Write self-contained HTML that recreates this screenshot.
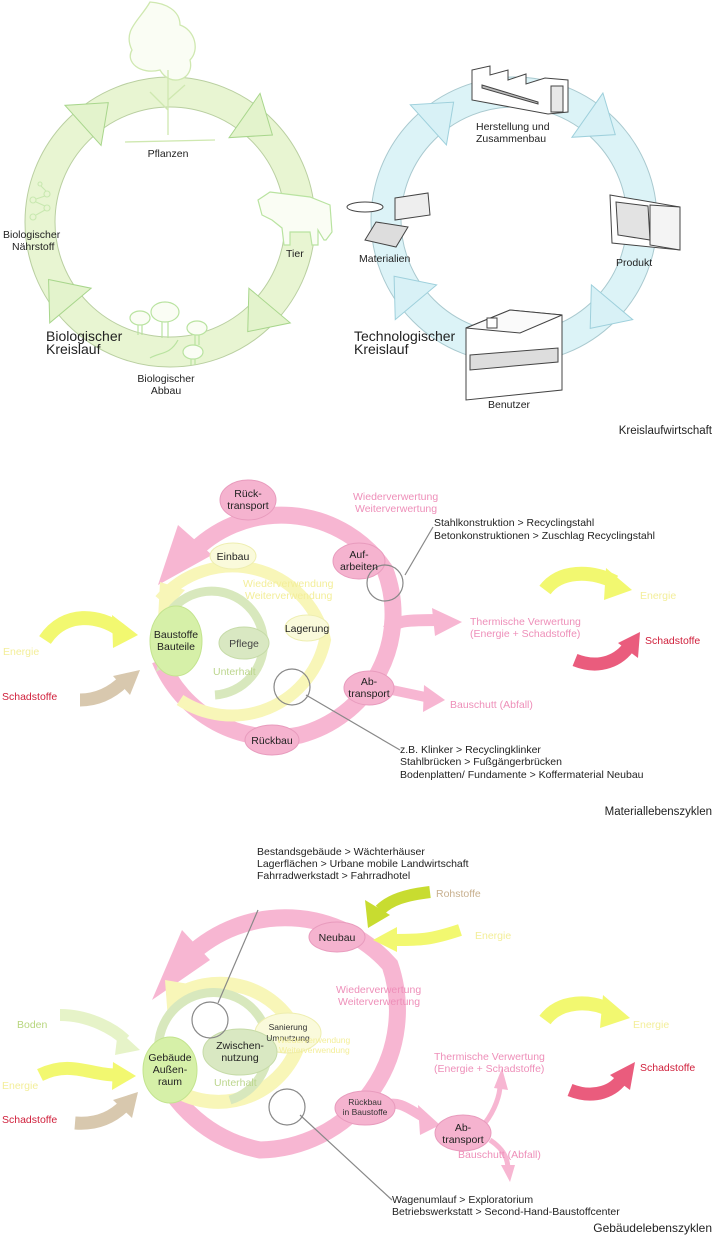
<!DOCTYPE html>
<html><head><meta charset="utf-8"><style>
html,body{margin:0;padding:0;background:#fff}
svg{display:block;font-family:"Liberation Sans",sans-serif}
text{font-size:10.5px}
</style></head><body>
<svg width="715" height="1238" viewBox="0 0 715 1238" xmlns="http://www.w3.org/2000/svg">
<!-- ========== Section 1 ========== -->
<circle cx="170" cy="222" r="130" fill="none" stroke="#b9cfa0" stroke-width="31"/>
<circle cx="170" cy="222" r="130" fill="none" stroke="#e8f5d2" stroke-width="29"/>
<circle cx="514" cy="220" r="128" fill="none" stroke="#a9c9cf" stroke-width="31"/>
<circle cx="514" cy="220" r="128" fill="none" stroke="#dcf3f7" stroke-width="29"/>
<g transform="translate(170,222)" fill="#e3f3cc" stroke="#a8d68c" stroke-width="1">
<polygon transform="rotate(-55)" points="103,0 157,0 130,34"/>
<polygon transform="rotate(40)" points="103,0 157,0 130,34"/>
<polygon transform="rotate(140)" points="103,0 157,0 130,34"/>
<polygon transform="rotate(228)" points="103,0 157,0 130,34"/>
</g>
<g transform="translate(514,220)" fill="#d8f1f6" stroke="#9ed0dc" stroke-width="1">
<polygon transform="rotate(-55)" points="101,0 155,0 128,34"/>
<polygon transform="rotate(40)" points="101,0 155,0 128,34"/>
<polygon transform="rotate(140)" points="101,0 155,0 128,34"/>
<polygon transform="rotate(228)" points="101,0 155,0 128,34"/>
</g>
<!-- plant -->
<g fill="none" stroke="#cfe8b0" stroke-width="1.3">
<path d="M150,2 C140,20 122,30 132,50 C125,62 140,75 160,70 C170,88 195,80 190,60 C200,50 195,30 180,25 C180,10 165,3 150,2Z" fill="#fafdf4"/>
<path d="M168,70 L168,135 M168,110 L150,92 M168,100 L185,85"/>
<path d="M125,142 L215,140"/>
</g>
<!-- cow -->
<g fill="#fafdf4" stroke="#b9e3a0" stroke-width="1.2">
<path d="M258,200 L270,192 L310,197 L330,205 L332,232 L326,240 L324,240 L318,230 L318,245 L312,245 L310,232 L290,232 L290,245 L284,245 L282,228 L272,220 L262,215 Z"/>
</g>
<!-- mushrooms -->
<g fill="#fafdf4" stroke="#b9e3a0" stroke-width="1.2">
<ellipse cx="140" cy="318" rx="10" ry="7"/><path d="M138,325 L138,335 M142,325 L142,335"/>
<ellipse cx="165" cy="312" rx="14" ry="10"/><path d="M162,322 L162,338 M168,322 L168,338"/>
<ellipse cx="197" cy="328" rx="10" ry="7"/><path d="M195,335 L195,345 M199,335 L199,345"/>
<ellipse cx="193" cy="352" rx="10" ry="7"/><path d="M191,359 L191,365 M195,359 L195,365"/>
<path d="M150,358 C160,352 170,355 178,340" fill="none"/>
</g>
<!-- molecule -->
<g fill="none" stroke="#c8e8b0" stroke-width="1.1">
<circle cx="40" cy="184" r="2"/><circle cx="47" cy="194" r="3"/><circle cx="33" cy="200" r="3"/><circle cx="47" cy="208" r="3"/><circle cx="33" cy="217" r="3"/>
<path d="M41,186 L46,191 M45,196 L36,199 M36,202 L45,206 M45,210 L36,215"/>
</g>
<!-- factory -->
<g fill="#fff" stroke="#444" stroke-width="1">
<path d="M472,98 L472,70 L490,66 L490,75 L508,70 L508,80 L526,74 L526,84 L545,78 L568,80 L568,112 L548,114 L472,100 Z"/>
<rect x="551" y="86" width="12" height="26" fill="#e8e8e8"/>
<path d="M482,85 L538,102 L538,104 L482,88 Z" fill="#bbb"/>
</g>
<!-- monitor -->
<g fill="#fff" stroke="#444" stroke-width="1">
<path d="M610,195 L680,207 L680,250 L612,243 Z"/>
<path d="M616,202 L648,206 L650,240 L618,235 Z" fill="#e3e3e3"/>
<path d="M650,205 L680,207 L680,250 L650,245 Z" fill="#f4f4f4"/>
</g>
<!-- box -->
<g fill="#fff" stroke="#444" stroke-width="1">
<path d="M466,328 L510,310 L562,315 L562,390 L466,400 Z"/>
<path d="M466,328 L510,310 L562,315 L520,333 Z" fill="#fafafa"/>
<path d="M470,355 L558,348 L558,362 L470,370 Z" fill="#ddd"/>
<rect x="487" y="318" width="10" height="10"/>
</g>
<!-- materials -->
<g fill="#fff" stroke="#444" stroke-width="1">
<ellipse cx="365" cy="207" rx="18" ry="5"/>
<path d="M395,198 L428,193 L430,215 L395,220 Z" fill="#eee"/>
<path d="M376,222 L408,227 L396,247 L365,240 Z" fill="#ddd"/>
</g>
<g fill="#222">
<text x="168" y="157" text-anchor="middle">Pflanzen</text>
<text x="3" y="238">Biologischer</text><text x="12" y="250">Nährstoff</text>
<text x="286" y="257">Tier</text>
<text x="46" y="341" style="font-size:14px">Biologischer</text><text x="46" y="354" style="font-size:14px">Kreislauf</text>
<text x="166" y="382" text-anchor="middle">Biologischer</text><text x="166" y="394" text-anchor="middle">Abbau</text>
<text x="476" y="130">Herstellung und</text><text x="476" y="142">Zusammenbau</text>
<text x="359" y="262">Materialien</text>
<text x="616" y="266">Produkt</text>
<text x="354" y="341" style="font-size:14px">Technologischer</text><text x="354" y="354" style="font-size:14px">Kreislauf</text>
<text x="488" y="408">Benutzer</text>
<text x="712" y="434" text-anchor="end" style="font-size:11.5px">Kreislaufwirtschaft</text>
</g>

<!-- ========== Section 2 ========== -->
<g fill="none" stroke="#f7b6d2" stroke-width="17">
<path d="M190,555 A125,125 0 0 1 385,570 A125,125 0 0 1 300,735 A125,125 0 0 1 160,660"/>
</g>
<polygon points="158,585 212,555 178,525" fill="#f7b6d2"/>
<path d="M388,630 C395,620 410,620 440,620" stroke="#f7b6d2" stroke-width="12" fill="none"/>
<polygon points="432,608 462,622 435,636" fill="#f7b6d2"/>
<path d="M392,690 L430,698" stroke="#f7b6d2" stroke-width="10"/>
<polygon points="424,685 445,700 423,712" fill="#f7b6d2"/>
<g fill="none" stroke="#f8f6b8" stroke-width="12">
<path d="M160,600 A95,95 0 0 1 325,640 A95,95 0 0 1 180,700"/>
</g>
<polygon points="158,620 185,590 160,582" fill="#f8f6b8"/>
<g fill="none" stroke="#d8e8bd" stroke-width="9">
<path d="M160,650 A52,52 0 1 1 215,695"/>
</g>
<polygon points="156,672 176,660 162,648" fill="#d8e8bd"/>
<g stroke-width="1">
<ellipse cx="248" cy="500" rx="28" ry="20" fill="#f5b3cf" stroke="#e89bbd"/>
<ellipse cx="359" cy="561" rx="26" ry="18" fill="#f5b3cf" stroke="#e89bbd"/>
<ellipse cx="233" cy="556" rx="23" ry="13" fill="#fafadb" stroke="#eeeeb0"/>
<ellipse cx="307" cy="628" rx="22" ry="13" fill="#fafadb" stroke="#eeeeb0"/>
<ellipse cx="244" cy="643" rx="25" ry="16" fill="#d9e8c2" stroke="#c6dba8"/>
<ellipse cx="176" cy="641" rx="26" ry="35" fill="#d6f0a8" stroke="#c3e48e"/>
<ellipse cx="369" cy="688" rx="25" ry="17" fill="#f5b3cf" stroke="#e89bbd"/>
<ellipse cx="272" cy="740" rx="27" ry="15" fill="#f5b3cf" stroke="#e89bbd"/>
</g>
<g fill="none" stroke="#888" stroke-width="1.2">
<circle cx="385" cy="583" r="18"/><circle cx="292" cy="687" r="18"/>
<path d="M405,575 L433,527"/><path d="M306,695 L400,750"/>
</g>
<path d="M45,640 C65,610 100,615 120,630" stroke="#f2f870" stroke-width="14" fill="none"/>
<polygon points="112,615 138,635 113,648" fill="#f2f870"/>
<path d="M80,700 C100,700 115,690 125,680" stroke="#d8c8ae" stroke-width="13" fill="none"/>
<polygon points="113,676 140,670 130,695" fill="#d8c8ae"/>
<path d="M545,590 C560,570 590,570 615,582" stroke="#f2f870" stroke-width="14" fill="none"/>
<polygon points="606,568 632,590 604,600" fill="#f2f870"/>
<path d="M575,660 C600,670 620,660 630,645" stroke="#ea5c7d" stroke-width="13" fill="none"/>
<polygon points="618,643 640,632 638,658" fill="#ea5c7d"/>
<g>
<text x="248" y="497" text-anchor="middle" fill="#222">Rück-</text><text x="248" y="509" text-anchor="middle" fill="#222">transport</text>
<text x="359" y="558" text-anchor="middle" fill="#222">Auf-</text><text x="359" y="570" text-anchor="middle" fill="#222">arbeiten</text>
<text x="233" y="560" text-anchor="middle" fill="#222">Einbau</text>
<text x="307" y="632" text-anchor="middle" fill="#222">Lagerung</text>
<text x="244" y="647" text-anchor="middle" fill="#444">Pflege</text>
<text x="176" y="638" text-anchor="middle" fill="#222">Baustoffe</text><text x="176" y="650" text-anchor="middle" fill="#222">Bauteile</text>
<text x="369" y="685" text-anchor="middle" fill="#222">Ab-</text><text x="369" y="697" text-anchor="middle" fill="#222">transport</text>
<text x="272" y="744" text-anchor="middle" fill="#222">Rückbau</text>
<text x="353" y="500" fill="#ee8fb9">Wiederverwertung</text><text x="355" y="512" fill="#ee8fb9">Weiterverwertung</text>
<text x="243" y="587" fill="#f3ee9a">Wiederverwendung</text><text x="245" y="599" fill="#f3ee9a">Weiterverwendung</text>
<text x="213" y="675" fill="#bcd68e">Unterhalt</text>
<text x="434" y="526" fill="#222">Stahlkonstruktion &gt; Recyclingstahl</text>
<text x="434" y="539" fill="#222">Betonkonstruktionen &gt; Zuschlag Recyclingstahl</text>
<text x="640" y="599" fill="#f3ee9a">Energie</text>
<text x="470" y="625" fill="#ee8fb9">Thermische Verwertung</text><text x="470" y="637" fill="#ee8fb9">(Energie + Schadstoffe)</text>
<text x="645" y="644" fill="#d0203c">Schadstoffe</text>
<text x="3" y="655" fill="#f3ee9a">Energie</text>
<text x="2" y="700" fill="#d0203c">Schadstoffe</text>
<text x="450" y="708" fill="#ee8fb9">Bauschutt (Abfall)</text>
<text x="400" y="753" fill="#222">z.B. Klinker &gt; Recyclingklinker</text>
<text x="400" y="765" fill="#222">Stahlbrücken &gt; Fußgängerbrücken</text>
<text x="400" y="778" fill="#222">Bodenplatten/ Fundamente &gt; Koffermaterial Neubau</text>
<text x="712" y="815" text-anchor="end" fill="#222" style="font-size:11.5px">Materiallebenszyklen</text>
</g>

<!-- ========== Section 3 ========== -->
<g fill="none" stroke="#f7b6d2" stroke-width="17">
<path d="M190,955 A140,140 0 0 1 390,965 A140,140 0 0 1 260,1150 A140,140 0 0 1 155,1060"/>
</g>
<polygon points="152,1000 210,960 182,930" fill="#f7b6d2"/>
<path d="M385,1105 C400,1100 410,1110 425,1118" stroke="#f7b6d2" stroke-width="10" fill="none"/>
<polygon points="418,1105 440,1125 420,1135" fill="#f7b6d2"/>
<path d="M485,1123 C495,1110 500,1095 500,1085" stroke="#f7b6d2" stroke-width="5" fill="none"/>
<polygon points="494,1088 502,1068 508,1090" fill="#f7b6d2"/>
<path d="M490,1140 C505,1150 508,1160 508,1170" stroke="#f7b6d2" stroke-width="5" fill="none"/>
<polygon points="501,1165 510,1182 515,1165" fill="#f7b6d2"/>
<g fill="none" stroke="#f8f6b8" stroke-width="14">
<path d="M170,1000 A85,85 0 0 1 300,1040 A85,85 0 0 1 175,1090"/>
</g>
<polygon points="168,1020 195,985 165,980" fill="#f8f6b8"/>
<g fill="none" stroke="#d8e8bd" stroke-width="9">
<path d="M160,1060 A55,55 0 1 1 230,1100"/>
</g>
<polygon points="152,1082 178,1068 160,1058" fill="#d8e8bd"/>
<g stroke-width="1">
<ellipse cx="337" cy="937" rx="28" ry="15" fill="#f5b3cf" stroke="#e89bbd"/>
<ellipse cx="288" cy="1033" rx="33" ry="20" fill="#fafadb" stroke="#eeeeb0"/>
<ellipse cx="240" cy="1052" rx="37" ry="23" fill="#d9e8c2" stroke="#c6dba8"/>
<ellipse cx="170" cy="1070" rx="27" ry="33" fill="#d6f0a8" stroke="#c3e48e"/>
<ellipse cx="365" cy="1108" rx="30" ry="17" fill="#f5b3cf" stroke="#e89bbd"/>
<ellipse cx="463" cy="1133" rx="28" ry="18" fill="#f5b3cf" stroke="#e89bbd"/>
</g>
<g fill="none" stroke="#888" stroke-width="1.2">
<circle cx="210" cy="1020" r="18"/><circle cx="287" cy="1107" r="18"/>
<path d="M218,1003 L258,910"/><path d="M300,1115 L392,1200"/>
</g>
<path d="M430,892 C405,895 390,900 380,910" stroke="#c8dc30" stroke-width="12" fill="none"/>
<polygon points="365,900 390,915 368,928" fill="#c8dc30"/>
<path d="M460,930 C430,940 420,940 395,940" stroke="#f2f870" stroke-width="12" fill="none"/>
<polygon points="397,927 373,940 397,952" fill="#f2f870"/>
<path d="M60,1015 C90,1015 115,1030 125,1040" stroke="#e6f3c8" stroke-width="12" fill="none"/>
<polygon points="118,1030 140,1050 115,1055" fill="#e6f3c8"/>
<path d="M40,1075 C70,1060 90,1075 115,1075" stroke="#f2f870" stroke-width="13" fill="none"/>
<polygon points="113,1062 136,1076 112,1090" fill="#f2f870"/>
<path d="M75,1123 C100,1125 115,1115 125,1105" stroke="#d8c8ae" stroke-width="13" fill="none"/>
<polygon points="113,1100 138,1092 132,1118" fill="#d8c8ae"/>
<path d="M545,1020 C560,1000 590,1000 610,1010" stroke="#f2f870" stroke-width="14" fill="none"/>
<polygon points="603,995 630,1018 600,1028" fill="#f2f870"/>
<path d="M570,1090 C595,1100 615,1090 622,1078" stroke="#ea5c7d" stroke-width="13" fill="none"/>
<polygon points="610,1075 635,1062 630,1090" fill="#ea5c7d"/>
<g>
<text x="257" y="855" fill="#222">Bestandsgebäude &gt; Wächterhäuser</text>
<text x="257" y="867" fill="#222">Lagerflächen &gt; Urbane mobile Landwirtschaft</text>
<text x="257" y="879" fill="#222">Fahrradwerkstadt &gt; Fahrradhotel</text>
<text x="436" y="897" fill="#c8b08e">Rohstoffe</text>
<text x="475" y="939" fill="#f3ee9a">Energie</text>
<text x="337" y="941" text-anchor="middle" fill="#222">Neubau</text>
<text x="336" y="993" fill="#ee8fb9">Wiederverwertung</text><text x="338" y="1005" fill="#ee8fb9">Weiterverwertung</text>
<text x="288" y="1030" text-anchor="middle" fill="#333" style="font-size:8.5px">Sanierung</text><text x="288" y="1041" text-anchor="middle" fill="#333" style="font-size:8.5px">Umnutzung</text>
<text x="17" y="1028" fill="#b8d67e">Boden</text>
<text x="633" y="1028" fill="#f3ee9a">Energie</text>
<text x="240" y="1049" text-anchor="middle" fill="#222">Zwischen-</text><text x="240" y="1061" text-anchor="middle" fill="#222">nutzung</text>
<text x="277" y="1043" fill="#f3ee9a" style="font-size:8.5px">Wiederverwendung</text><text x="279" y="1053" fill="#f3ee9a" style="font-size:8.5px">Weiterverwendung</text>
<text x="170" y="1061" text-anchor="middle" fill="#222">Gebäude</text><text x="170" y="1073" text-anchor="middle" fill="#222">Außen-</text><text x="170" y="1085" text-anchor="middle" fill="#222">raum</text>
<text x="434" y="1060" fill="#ee8fb9">Thermische Verwertung</text><text x="434" y="1072" fill="#ee8fb9">(Energie + Schadstoffe)</text>
<text x="640" y="1071" fill="#d0203c">Schadstoffe</text>
<text x="2" y="1089" fill="#f3ee9a">Energie</text>
<text x="214" y="1086" fill="#bcd68e">Unterhalt</text>
<text x="2" y="1123" fill="#d0203c">Schadstoffe</text>
<text x="365" y="1105" text-anchor="middle" fill="#333" style="font-size:8.5px">Rückbau</text><text x="365" y="1115" text-anchor="middle" fill="#333" style="font-size:8.5px">in Baustoffe</text>
<text x="463" y="1131" text-anchor="middle" fill="#222">Ab-</text><text x="463" y="1143" text-anchor="middle" fill="#222">transport</text>
<text x="458" y="1158" fill="#ee8fb9">Bauschutt (Abfall)</text>
<text x="392" y="1203" fill="#222">Wagenumlauf &gt; Exploratorium</text>
<text x="392" y="1215" fill="#222">Betriebswerkstatt &gt; Second-Hand-Baustoffcenter</text>
<text x="712" y="1232" text-anchor="end" fill="#222" style="font-size:12px">Gebäudelebenszyklen</text>
</g>
</svg>
</body></html>
